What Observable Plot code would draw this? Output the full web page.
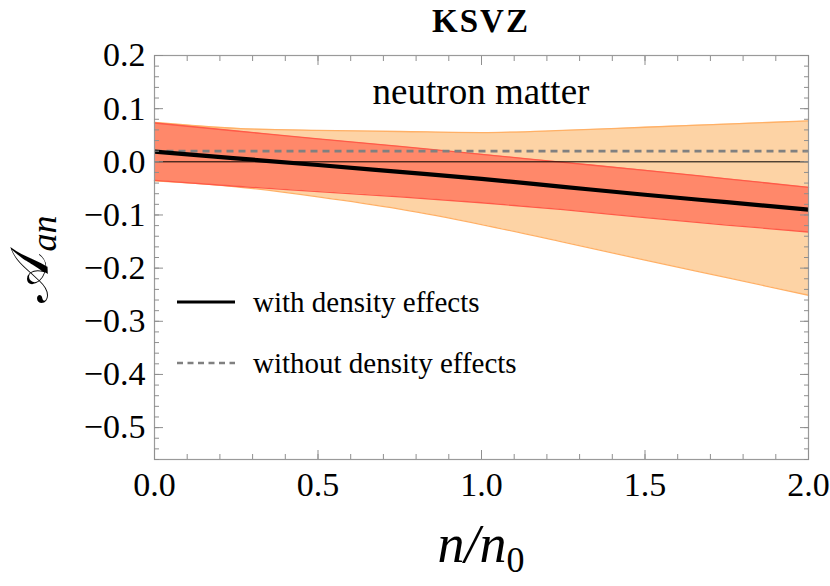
<!DOCTYPE html>
<html>
<head>
<meta charset="utf-8">
<script src="https://cdn.jsdelivr.net/npm/d3@7"></script>
<script src="https://cdn.jsdelivr.net/npm/@observablehq/plot@0.6"></script>
<style>
  html, body { margin: 0; padding: 0; background: #fff; }
  #chart { width: 830px; height: 586px; }
</style>
</head>
<body>
<div id="chart"></div>
<script>
// ---- data ----
const nValues       = [0, 0.25, 0.5, 0.75, 1.0, 1.25, 1.5, 1.75, 2.0];
const withDensity   = [0.019, 0.0065, -0.006, -0.019, -0.032, -0.047, -0.062, -0.076, -0.090];
const withoutDensity= [0.02, 0.02, 0.02, 0.02, 0.02, 0.02, 0.02, 0.02, 0.02];
const redUpper      = [0.073, 0.058, 0.043, 0.029, 0.014, -0.001, -0.016, -0.032, -0.048];
const redLower      = [-0.035, -0.046, -0.056, -0.066, -0.077, -0.090, -0.105, -0.119, -0.132];
const orangeUpper   = [0.074, 0.063, 0.059, 0.057, 0.055, 0.059, 0.065, 0.071, 0.077];
const orangeLower   = [-0.036, -0.047, -0.066, -0.089, -0.118, -0.151, -0.185, -0.218, -0.251];

const xMajorTicks = [0, 0.5, 1.0, 1.5, 2.0];
const xMinorTicks = [0, 0.1, 0.2, 0.3, 0.4, 0.5, 0.6, 0.7, 0.8, 0.9, 1.0, 1.1, 1.2, 1.3, 1.4, 1.5, 1.6, 1.7, 1.8, 1.9, 2.0];
const yMajorTicks = [-0.5, -0.4, -0.3, -0.2, -0.1, 0.0, 0.1, 0.2];
const yMinorTicks = d3.range(-28, 11).map(i => +(i * 0.02).toFixed(2));

const titleText = "KSVZ";
const panelText = "neutron matter";
const legendLabels = ["with density effects", "without density effects"];

const rows = nValues.map((n, i) => ({
  n,
  w: withDensity[i], wo: withoutDensity[i],
  rU: redUpper[i], rL: redLower[i],
  oU: orangeUpper[i], oL: orangeLower[i]
}));

const FONT = "'Liberation Serif', 'Times New Roman', serif";
const tickColor = "#8f8f8f";
const fmt = d3.format(".1f");

const plot = Plot.plot({
  width: 830,
  height: 586,
  marginLeft: 154,
  marginRight: 22,
  marginTop: 55,
  marginBottom: 127,
  style: { fontFamily: FONT, background: "white", color: "black", overflow: "visible" },
  x: { domain: [0, 2] },
  y: { domain: [-0.56, 0.2] },
  marks: [
    // orange band
    Plot.areaY(rows, { x: "n", y1: "oL", y2: "oU", fill: "#fdd3a5", curve: "monotone-x" }),
    Plot.line(rows, { x: "n", y: "oU", stroke: "#ffb066", strokeWidth: 1.3, curve: "monotone-x" }),
    Plot.line(rows, { x: "n", y: "oL", stroke: "#ffb066", strokeWidth: 1.3, curve: "monotone-x" }),
    // red band
    Plot.areaY(rows, { x: "n", y1: "rL", y2: "rU", fill: "#ff886a", curve: "monotone-x" }),
    Plot.line(rows, { x: "n", y: "rU", stroke: "#ff5a48", strokeWidth: 1.3, curve: "monotone-x" }),
    Plot.line(rows, { x: "n", y: "rL", stroke: "#ff5a48", strokeWidth: 1.3, curve: "monotone-x" }),
    // zero line
    Plot.ruleY([0], { stroke: "black", strokeWidth: 1 }),
    // without density effects
    Plot.line(rows, { x: "n", y: "wo", stroke: "#808080", strokeWidth: 2.8, strokeDasharray: "7,5", strokeLinecap: "butt" }),
    // with density effects
    Plot.line(rows, { x: "n", y: "w", stroke: "black", strokeWidth: 4.2, curve: "monotone-x", strokeLinecap: "butt" }),
    // frame
    Plot.frame({ stroke: "#9a9a9a", strokeWidth: 1.2 }),
    // inward ticks: bottom
    Plot.axisX({ anchor: "bottom", ticks: xMajorTicks, tickSize: 9, dy: -9, fill: "none", stroke: tickColor, label: null }),
    Plot.axisX({ anchor: "bottom", ticks: xMinorTicks, tickSize: 5, dy: -5, fill: "none", stroke: tickColor, label: null }),
    // top
    Plot.axisX({ anchor: "top", ticks: xMajorTicks, tickSize: 9, dy: 9, fill: "none", stroke: tickColor, label: null }),
    Plot.axisX({ anchor: "top", ticks: xMinorTicks, tickSize: 5, dy: 5, fill: "none", stroke: tickColor, label: null }),
    // left
    Plot.axisY({ anchor: "left", ticks: yMajorTicks, tickSize: 9, dx: 9, fill: "none", stroke: tickColor, label: null }),
    Plot.axisY({ anchor: "left", ticks: yMinorTicks, tickSize: 5, dx: 5, fill: "none", stroke: tickColor, label: null }),
    // right
    Plot.axisY({ anchor: "right", ticks: yMajorTicks, tickSize: 9, dx: -9, fill: "none", stroke: tickColor, label: null }),
    Plot.axisY({ anchor: "right", ticks: yMinorTicks, tickSize: 5, dx: -5, fill: "none", stroke: tickColor, label: null }),
    // tick labels
    Plot.axisX({ anchor: "bottom", ticks: xMajorTicks, tickSize: 0, tickPadding: 12, tickFormat: fmt, fontSize: 34, label: null }),
    Plot.axisY({ anchor: "left", ticks: yMajorTicks, tickSize: 0, tickPadding: 9, tickFormat: fmt, fontSize: 34, label: null })
  ]
});

document.getElementById("chart").appendChild(plot);

// ---- annotations (title, panel text, legend, axis labels) ----
const svg = d3.select(plot);
const xs = plot.scale("x");
const ys = plot.scale("y");
const cx = (xs.apply(0) + xs.apply(2)) / 2;

svg.append("text")
  .attr("x", cx).attr("y", 32)
  .attr("text-anchor", "middle")
  .attr("font-family", FONT).attr("font-weight", "bold").attr("font-size", 33)
  .attr("letter-spacing", 2)
  .attr("fill", "black")
  .text(titleText);

svg.append("text")
  .attr("x", cx).attr("y", 104)
  .attr("text-anchor", "middle")
  .attr("font-family", FONT).attr("font-size", 37)
  .attr("fill", "black")
  .text(panelText);

// legend
const legendX0 = 177, legendX1 = 235, legendTextX = 253;
const legendRows = [
  { y: 302, stroke: "black", width: 3, dash: null, label: legendLabels[0] },
  { y: 363, stroke: "#808080", width: 2.6, dash: "6,4.5", label: legendLabels[1] }
];
legendRows.forEach(r => {
  const l = svg.append("line")
    .attr("x1", legendX0).attr("x2", legendX1)
    .attr("y1", r.y).attr("y2", r.y)
    .attr("stroke", r.stroke).attr("stroke-width", r.width);
  if (r.dash) l.attr("stroke-dasharray", r.dash);
  svg.append("text")
    .attr("x", legendTextX).attr("y", r.y + 10)
    .attr("text-anchor", "start")
    .attr("font-family", FONT).attr("font-size", 29)
    .attr("fill", "black")
    .text(r.label);
});

// y label
const yl = svg.append("text")
  .attr("transform", `translate(48, ${(ys.apply(0.2) + ys.apply(-0.56)) / 2 + 2}) rotate(-90)`)
  .attr("text-anchor", "middle")
  .attr("font-family", FONT).attr("fill", "black");
yl.append("tspan").attr("font-size", 54).text("𝒜");
yl.append("tspan").attr("font-size", 36).attr("font-style", "italic").attr("dy", 8).text("an");

// x label
const xl = svg.append("text")
  .attr("x", cx).attr("y", 562)
  .attr("text-anchor", "middle")
  .attr("font-family", FONT).attr("fill", "black");
xl.append("tspan").attr("font-size", 54).attr("font-style", "italic").text("n/n");
xl.append("tspan").attr("font-size", 36).attr("dy", 10).text("0");
</script>
</body>
</html>
